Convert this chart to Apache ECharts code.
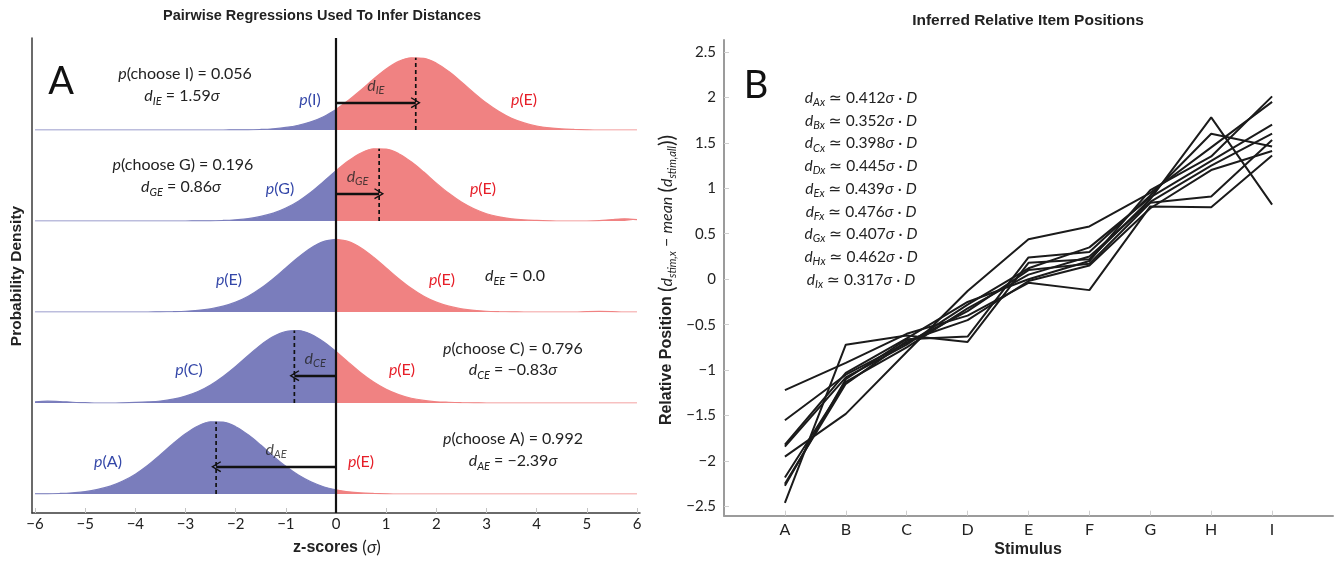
<!DOCTYPE html>
<html>
<head>
<meta charset="utf-8">
<title>Pairwise Regressions and Inferred Item Positions</title>
<script src="https://cdn.jsdelivr.net/npm/echarts@6/dist/echarts.min.js"></script>
<style>
html, body { margin: 0; padding: 0; background: #fff; }
#chart { width: 1334px; height: 563px; }
</style>
</head>
<body>
<div id="chart"></div>
<script>
// ---------- Panel A: pairwise densities against item E ----------
// z-score grid shared by all density rows
const zGrid = [-6, -5.75, -5.5, -5.25, -5, -4.75, -4.5, -4.25, -4, -3.75, -3.5, -3.25,
  -3, -2.75, -2.5, -2.25, -2, -1.75, -1.5, -1.25, -1, -0.75, -0.5, -0.25, 0,
  0.25, 0.5, 0.75, 1, 1.25, 1.5, 1.75, 2, 2.25, 2.5, 2.75, 3, 3.25, 3.5, 3.75,
  4, 4.25, 4.5, 4.75, 5, 5.25, 5.5, 5.75, 6];
const zTicks = [-6, -5, -4, -3, -2, -1, 0, 1, 2, 3, 4, 5, 6];

// compared item, inferred shift from E (in sigma), and choice probability
const rowItems = ['I', 'G', 'E', 'C', 'A'];
const rowShift = [1.59, 0.86, 0.0, -0.83, -2.39];
const rowChoice = [0.056, 0.196, null, 0.796, 0.992];

const densityI = [0, 0, 0, 0, 0, 0, 0, 0, 0, 0, 0, 0, 0, 0, 0, 0,
  0.001, 0.001, 0.003, 0.007, 0.014, 0.026, 0.045, 0.073, 0.113, 0.163, 0.220, 0.280,
  0.335, 0.377, 0.397, 0.394, 0.367, 0.321, 0.264, 0.204, 0.148, 0.101, 0.064, 0.039,
  0.022, 0.012, 0.006, 0.003, 0.001, 0, 0, 0, 0];
const densityG = [0, 0, 0, 0, 0, 0, 0, 0, 0, 0, 0, 0, 0,
  0.001, 0.001, 0.003, 0.007, 0.013, 0.025, 0.043, 0.071, 0.109, 0.158, 0.216, 0.276,
  0.331, 0.374, 0.397, 0.395, 0.370, 0.325, 0.269, 0.208, 0.152, 0.104, 0.067, 0.040,
  0.023, 0.012, 0.006, 0.003, 0.001, 0, 0, 0, 0.002, 0.008, 0.012, 0.008];
const densityE = [0, 0, 0, 0, 0, 0, 0, 0, 0, 0,
  0.001, 0.002, 0.004, 0.009, 0.018, 0.032, 0.054, 0.086, 0.130, 0.183, 0.242, 0.301,
  0.352, 0.387, 0.399, 0.387, 0.352, 0.301, 0.242, 0.183, 0.130, 0.086, 0.054, 0.032,
  0.018, 0.009, 0.004, 0.002, 0.001, 0, 0, 0, 0, 0, 0.002, 0.003, 0.002, 0, 0];
const densityC = [0.006, 0.010, 0.008, 0.004, 0.002, 0, 0, 0.001, 0.003, 0.006,
  0.011, 0.021, 0.038, 0.063, 0.099, 0.146, 0.201, 0.261, 0.319, 0.365, 0.393, 0.398,
  0.378, 0.337, 0.283, 0.223, 0.165, 0.115, 0.075, 0.046, 0.026, 0.014, 0.007, 0.004,
  0.002, 0.001, 0, 0, 0, 0, 0, 0, 0, 0, 0, 0, 0, 0, 0];
const densityA = [0.001, 0.001, 0.003, 0.007, 0.013, 0.025, 0.043, 0.071, 0.109, 0.158,
  0.216, 0.276, 0.331, 0.374, 0.397, 0.395, 0.370, 0.325, 0.269, 0.208, 0.152, 0.104,
  0.067, 0.040, 0.023, 0.012, 0.006, 0.003, 0.001, 0, 0, 0, 0, 0, 0, 0, 0, 0, 0, 0,
  0, 0, 0, 0, 0, 0, 0, 0, 0];
const rowDensities = [densityI, densityG, densityE, densityC, densityA];

// ---------- Panel B: inferred relative positions ----------
const stimuli = ['A', 'B', 'C', 'D', 'E', 'F', 'G', 'H', 'I'];
const stimulusSlots = [1, 2, 3, 4, 5, 6, 7, 8, 9];
const itemScale = [0.412, 0.352, 0.398, 0.445, 0.439, 0.476, 0.407, 0.462, 0.317];
const positionTicks = [-2.5, -2, -1.5, -1, -0.5, 0, 0.5, 1, 1.5, 2, 2.5];

const positionsA = [-1.95, -1.48, -0.80, -0.13, 0.44, 0.58, 0.95, 1.45, 1.95];
const positionsB = [-2.46, -0.72, -0.62, -0.69, 0.18, 0.22, 0.88, 1.78, 0.82];
const positionsC = [-2.27, -1.10, -0.66, -0.63, 0.24, 0.30, 0.92, 1.60, 1.46];
const positionsD = [-1.22, -0.92, -0.60, -0.40, -0.04, -0.12, 0.80, 0.79, 1.36];
const positionsE = [-1.55, -1.05, -0.70, -0.35, 0.10, 0.17, 0.84, 0.91, 1.53];
const positionsF = [-1.84, -1.08, -0.72, -0.28, 0.12, 0.35, 0.90, 1.30, 1.70];
const positionsG = [-2.18, -1.13, -0.75, -0.32, 0.05, 0.25, 0.85, 1.25, 1.60];
const positionsH = [-2.25, -1.15, -0.68, -0.45, -0.02, 0.15, 0.78, 1.20, 1.41];
const positionsI = [-1.82, -1.03, -0.65, -0.25, 0.00, 0.20, 0.98, 1.35, 2.01];
const positionSets = [positionsA, positionsB, positionsC, positionsD, positionsE,
  positionsF, positionsG, positionsH, positionsI];

// ---------- styling ----------
const F = 'Lato, "DejaVu Sans", sans-serif';
const FB = '"Liberation Sans", Arial, sans-serif';
const INK = '#222';
const BLUE = '#7a7dbc';
const RED = '#f08282';
const BLUE_TXT = '#3447a8';
const RED_TXT = '#e61e28';
const CHEVRON = 'path://M0,0 L7,10 L5.6,10.8 L0,2.8 L-5.6,10.8 L-7,10 Z';

const minus = v => String(v).replace('-', '\u2212');

function gRich(size, color, bold) {
  return {
    i: { fontFamily: F, fontStyle: 'italic', fontSize: size, fill: color, lineHeight: size + 5 },
    s: { fontFamily: F, fontStyle: 'italic', fontSize: Math.round(size * 0.7), fill: color,
         lineHeight: Math.round(size * 0.7), verticalAlign: 'bottom' },
    b: { fontFamily: FB, fontWeight: 'bold', fontSize: bold || size, fill: color, lineHeight: size + 5 },
    p: { fontFamily: F, fontSize: size + 5, fill: color, lineHeight: size + 5 }
  };
}
function textEl(x, y, text, o) {
  o = o || {};
  const size = o.size || 16;
  const color = o.color || INK;
  return {
    type: 'text', x: x, y: y, z: 100, silent: true, rotation: o.rotation || 0,
    style: {
      text: text, align: o.align || 'center', verticalAlign: 'middle',
      fontFamily: o.family || F, fontSize: size, fontWeight: o.weight || 'normal',
      fill: color, lineHeight: size + 5, rich: gRich(size, color, o.bold)
    }
  };
}

// ---------- layout ----------
const grids = [{ left: 32, top: 38, width: 608, height: 475 }];
const xAxes = [{
  gridIndex: 0, type: 'value', min: -6.06, max: 6.06,
  axisLine: { show: true, onZero: false, lineStyle: { color: '#3a3a3a', width: 1.5 } },
  axisTick: { show: true, inside: true, length: 5, customValues: zTicks,
              lineStyle: { color: '#c4c4c4', width: 1 } },
  axisLabel: { show: true, margin: 4, customValues: zTicks, formatter: v => minus(v),
               color: INK, fontFamily: F, fontSize: 15 },
  splitLine: { show: false }
}];
const yAxes = [{
  gridIndex: 0, type: 'value', min: 0, max: 1,
  axisLine: { show: true, onZero: false, lineStyle: { color: '#3a3a3a', width: 1.5 } },
  axisTick: { show: false }, axisLabel: { show: false }, splitLine: { show: false }
}];
const series = [];

// vertical reference at z = 0
series.push({
  type: 'line', xAxisIndex: 0, yAxisIndex: 0, data: [[0, 0], [0, 1]],
  symbol: 'none', silent: true, z: 10, lineStyle: { color: '#111', width: 2.2 }
});

const labelRich = {
  i: { fontFamily: F, fontStyle: 'italic', fontSize: 16, color: INK, lineHeight: 21 },
  s: { fontFamily: F, fontStyle: 'italic', fontSize: 11, color: INK, lineHeight: 11, verticalAlign: 'bottom' }
};

rowDensities.forEach((dens, r) => {
  const gi = r + 1;
  grids.push({ left: 32, top: 39 + 91 * r, width: 608, height: 91 });
  xAxes.push({ gridIndex: gi, type: 'value', min: -6.06, max: 6.06, show: false });
  yAxes.push({ gridIndex: gi, type: 'value', min: 0, max: 0.5, show: false });

  const pts = zGrid.map((z, i) => [z, dens[i]]);
  const zeroIdx = zGrid.indexOf(0);
  series.push({
    type: 'line', xAxisIndex: gi, yAxisIndex: gi, data: pts.slice(0, zeroIdx + 1),
    smooth: 0.35, symbol: 'none', silent: true, z: 2,
    lineStyle: { color: BLUE, width: 1.2 }, areaStyle: { color: BLUE, opacity: 1 }
  });
  series.push({
    type: 'line', xAxisIndex: gi, yAxisIndex: gi, data: pts.slice(zeroIdx),
    smooth: 0.35, symbol: 'none', silent: true, z: 2,
    lineStyle: { color: RED, width: 1.2 }, areaStyle: { color: RED, opacity: 1 }
  });

  const d = rowShift[r];
  if (d !== 0) {
    const peak = Math.max.apply(null, dens);
    series.push({
      type: 'line', xAxisIndex: gi, yAxisIndex: gi, data: [[d, 0], [d, peak]],
      symbol: 'none', silent: true, z: 4,
      lineStyle: { color: '#111', width: 1.7, type: [4, 3] },
      markLine: {
        silent: true, animation: false, symbol: ['none', 'none'], label: { show: false },
        lineStyle: { color: '#111', width: 2.4, type: 'solid' },
        data: [[{ coord: [0, 0.15] },
                { coord: [d, 0.15], symbol: CHEVRON, symbolSize: [11, 10] }]]
      }
    });
    series.push({
      type: 'scatter', xAxisIndex: gi, yAxisIndex: gi, data: [[d / 2, 0.245]],
      symbolSize: 1, itemStyle: { color: 'transparent' }, silent: true, z: 6,
      label: { show: true, position: 'inside', formatter: '{i|d}{s|' + rowItems[r] + 'E}', rich: labelRich }
    });
  }
});

// ---------- Panel B grid ----------
const gB = grids.length;
grids.push({ left: 724, top: 40, width: 609, height: 475.7 });
xAxes.push({
  gridIndex: gB, type: 'value', min: 0, max: 10,
  axisLine: { show: true, onZero: false, lineStyle: { color: '#9b9b9b', width: 2 } },
  axisTick: { show: true, inside: true, length: 5, customValues: stimulusSlots,
              lineStyle: { color: '#cfcfcf', width: 1 } },
  axisLabel: { show: true, margin: 6, customValues: stimulusSlots,
               formatter: v => stimuli[v - 1], color: INK, fontFamily: F, fontSize: 16 },
  splitLine: { show: false }
});
yAxes.push({
  gridIndex: gB, type: 'value', min: -2.6, max: 2.63,
  axisLine: { show: true, onZero: false, lineStyle: { color: '#9b9b9b', width: 2 } },
  axisTick: { show: true, inside: true, length: 5, customValues: positionTicks,
              lineStyle: { color: '#cfcfcf', width: 1 } },
  axisLabel: { show: true, margin: 8, customValues: positionTicks, formatter: v => minus(v),
               color: INK, fontFamily: F, fontSize: 15 },
  splitLine: { show: false }
});
positionSets.forEach(vals => {
  series.push({
    type: 'line', xAxisIndex: gB, yAxisIndex: gB,
    data: stimulusSlots.map((s, i) => [s, vals[i]]),
    symbol: 'none', silent: true, z: 3,
    lineStyle: { color: '#1b1b1b', width: 2 }
  });
});

// ---------- text ----------
const graphics = [
  textEl(322, 16, 'Pairwise Regressions Used To Infer Distances', { family: FB, weight: 'bold', size: 14.5 }),
  textEl(1028, 21, 'Inferred Relative Item Positions', { family: FB, weight: 'bold', size: 15.5 }),
  textEl(17, 276, 'Probability Density', { family: FB, weight: 'bold', size: 15.5, rotation: Math.PI / 2 }),
  textEl(337, 548, '{b|z-scores} ({i|\u03c3})', { size: 17, bold: 16 }),
  textEl(1028, 550, 'Stimulus', { family: FB, weight: 'bold', size: 16 }),
  textEl(667, 280, '{b|Relative Position} {p|(}{i|d}{s|stim,x} \u2212 {i|mean} {p|(}{i|d}{s|stim,all}{p|))}',
         { size: 16, bold: 16, rotation: Math.PI / 2 }),
  textEl(61, 82, 'A', { size: 38, color: '#111' }),
  textEl(756, 86, 'B', { size: 38, color: '#111' })
];

// per-row annotations (pixel anchors for each row of panel A)
const rowNote = [
  { pc: [185, 74], dc: [182, 96], pl: [310, 100], pr: [524, 100] },
  { pc: [183, 165], dc: [181, 187], pl: [280, 189], pr: [483, 189] },
  { pc: null, dc: [515, 276], pl: [229, 280], pr: [442, 280] },
  { pc: [513, 349], dc: [513, 370], pl: [189, 370], pr: [402, 370] },
  { pc: [513, 439], dc: [513, 461], pl: [108, 462], pr: [361, 462] }
];
rowItems.forEach((item, r) => {
  const n = rowNote[r];
  const d = rowShift[r];
  if (n.pc) {
    graphics.push(textEl(n.pc[0], n.pc[1], '{i|p}(choose ' + item + ') = ' + rowChoice[r].toFixed(3)));
  }
  const dTxt = d === 0 ? '0.0' : minus(d.toFixed(2)) + '{i|\u03c3}';
  graphics.push(textEl(n.dc[0], n.dc[1], '{i|d}{s|' + item + 'E} = ' + dTxt));
  graphics.push(textEl(n.pl[0], n.pl[1], '{i|p}(' + item + ')', { color: BLUE_TXT }));
  graphics.push(textEl(n.pr[0], n.pr[1], '{i|p}(E)', { color: RED_TXT }));
});

// scale factors for panel B
stimuli.forEach((s, k) => {
  graphics.push(textEl(861, 98 + 22.7 * k,
    '{i|d}{s|' + s + 'x} \u2243 ' + itemScale[k].toFixed(3) + '{i|\u03c3} \u00b7 {i|D}', { size: 15.5 }));
});

const chart = echarts.init(document.getElementById('chart'), null, { renderer: 'canvas' });
chart.setOption({
  animation: false,
  backgroundColor: '#fff',
  grid: grids,
  xAxis: xAxes,
  yAxis: yAxes,
  series: series,
  graphic: graphics
});
</script>
</body>
</html>
